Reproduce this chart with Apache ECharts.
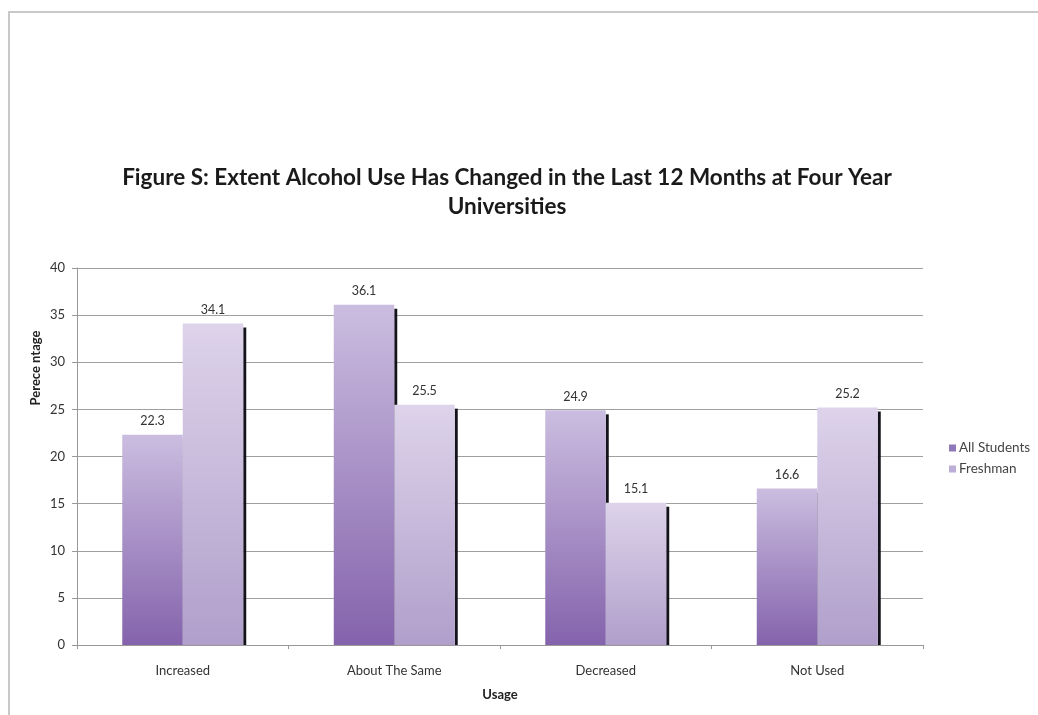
<!DOCTYPE html>
<html>
<head>
<meta charset="utf-8">
<script src="https://cdn.jsdelivr.net/npm/echarts@6/dist/echarts.min.js"></script>
<style>
  html, body { margin: 0; padding: 0; background: #fff; }
  #chart { width: 1038px; height: 715px; }
</style>
</head>
<body>
<div id="chart"></div>
<script>
// Survey results: share of students whose alcohol use changed over 12 months
const categories = ['Increased', 'About The Same', 'Decreased', 'Not Used'];
const allStudents = [22.3, 36.1, 24.9, 16.6];
const freshman = [34.1, 25.5, 15.1, 25.2];
const seriesNames = ['All Students', 'Freshman'];

const FONT = 'Lato, "Open Sans", sans-serif';

const palettes = [
  { top: '#cbbde0', bottom: '#8463ac', legend: '#8f78b8' },
  { top: '#ddd3ea', bottom: '#b09fcb', legend: '#bcaed6' }
];

// Each series draws its bar with a thin dark edge on the right side
function barRenderer(side) {
  const pal = palettes[side];
  return function (params, api) {
    const idx = api.value(0);
    const val = api.value(1);
    const top = api.coord([idx, val]);
    const base = api.coord([idx, 0]);
    const band = api.size([1, 0])[0];
    const w = band * 0.286;
    const left = side === 0 ? top[0] - w : top[0];
    const h = base[1] - top[1];
    return {
      type: 'group',
      children: [
        {
          type: 'rect',
          shape: { x: left + w, y: top[1] + 4, width: 3, height: h - 4 },
          style: { fill: '#14121a' }
        },
        {
          type: 'rect',
          shape: { x: left, y: top[1], width: w, height: h },
          style: {
            fill: new echarts.graphic.LinearGradient(0, 0, 0, 1, [
              { offset: 0, color: pal.top },
              { offset: 1, color: pal.bottom }
            ])
          }
        },
        {
          type: 'text',
          x: left + w / 2,
          y: top[1] - 7,
          style: {
            text: val.toFixed(1),
            align: 'center',
            verticalAlign: 'bottom',
            font: '12.5px ' + FONT,
            fill: '#333'
          }
        }
      ]
    };
  };
}

const chart = echarts.init(document.getElementById('chart'), null, { renderer: 'canvas' });

chart.setOption({
  backgroundColor: '#fff',
  animation: false,
  title: {
    text: 'Figure S: Extent Alcohol Use Has Changed in the Last 12 Months at Four Year\nUniversities',
    left: 502,
    top: 158,
    textAlign: 'center',
    textStyle: {
      fontFamily: FONT,
      fontWeight: 'bold',
      fontSize: 22.5,
      lineHeight: 29,
      color: '#1a1a1a'
    }
  },
  graphic: [
    {
      type: 'polyline',
      shape: { points: [[9, 715], [9, 12], [1038, 12]] },
      style: { stroke: '#c9c9c9', lineWidth: 2, fill: null },
      silent: true
    },
    {
      type: 'text',
      x: 36,
      y: 368,
      rotation: Math.PI / 2,
      style: {
        text: 'Perece ntage',
        align: 'center',
        verticalAlign: 'middle',
        font: 'bold 13px ' + FONT,
        fill: '#222'
      },
      silent: true
    }
  ],
  legend: {
    orient: 'vertical',
    left: 944,
    top: 436,
    itemWidth: 7,
    itemHeight: 7,
    itemGap: 7,
    icon: 'rect',
    textStyle: { fontFamily: FONT, fontSize: 13.5, color: '#444', padding: [0, 0, 0, -2] },
    data: seriesNames
  },
  grid: { left: 77, right: 115, top: 268, bottom: 70 },
  xAxis: {
    type: 'category',
    data: categories,
    name: 'Usage',
    nameLocation: 'middle',
    nameGap: 43,
    nameTextStyle: { fontFamily: FONT, fontWeight: 'bold', fontSize: 13, color: '#222' },
    axisLine: { lineStyle: { color: '#999', width: 1 } },
    axisTick: { show: true, length: 4, lineStyle: { color: '#999' } },
    axisLabel: { fontFamily: FONT, fontSize: 13, color: '#333', margin: 19 }
  },
  yAxis: {
    type: 'value',
    min: 0,
    max: 40,
    interval: 5,
    axisLine: { show: true, lineStyle: { color: '#999', width: 1 } },
    axisTick: { show: true, length: 5, lineStyle: { color: '#999' } },
    axisLabel: { fontFamily: FONT, fontSize: 13, color: '#333', margin: 12 },
    splitLine: { lineStyle: { color: '#a0a0a0', width: 1 } }
  },
  series: [
    {
      name: seriesNames[0],
      type: 'custom',
      renderItem: barRenderer(0),
      itemStyle: { color: palettes[0].legend },
      encode: { x: 0, y: 1 },
      data: allStudents.map((v, i) => [i, v])
    },
    {
      name: seriesNames[1],
      type: 'custom',
      renderItem: barRenderer(1),
      itemStyle: { color: palettes[1].legend },
      encode: { x: 0, y: 1 },
      data: freshman.map((v, i) => [i, v])
    }
  ]
});
</script>
</body>
</html>
